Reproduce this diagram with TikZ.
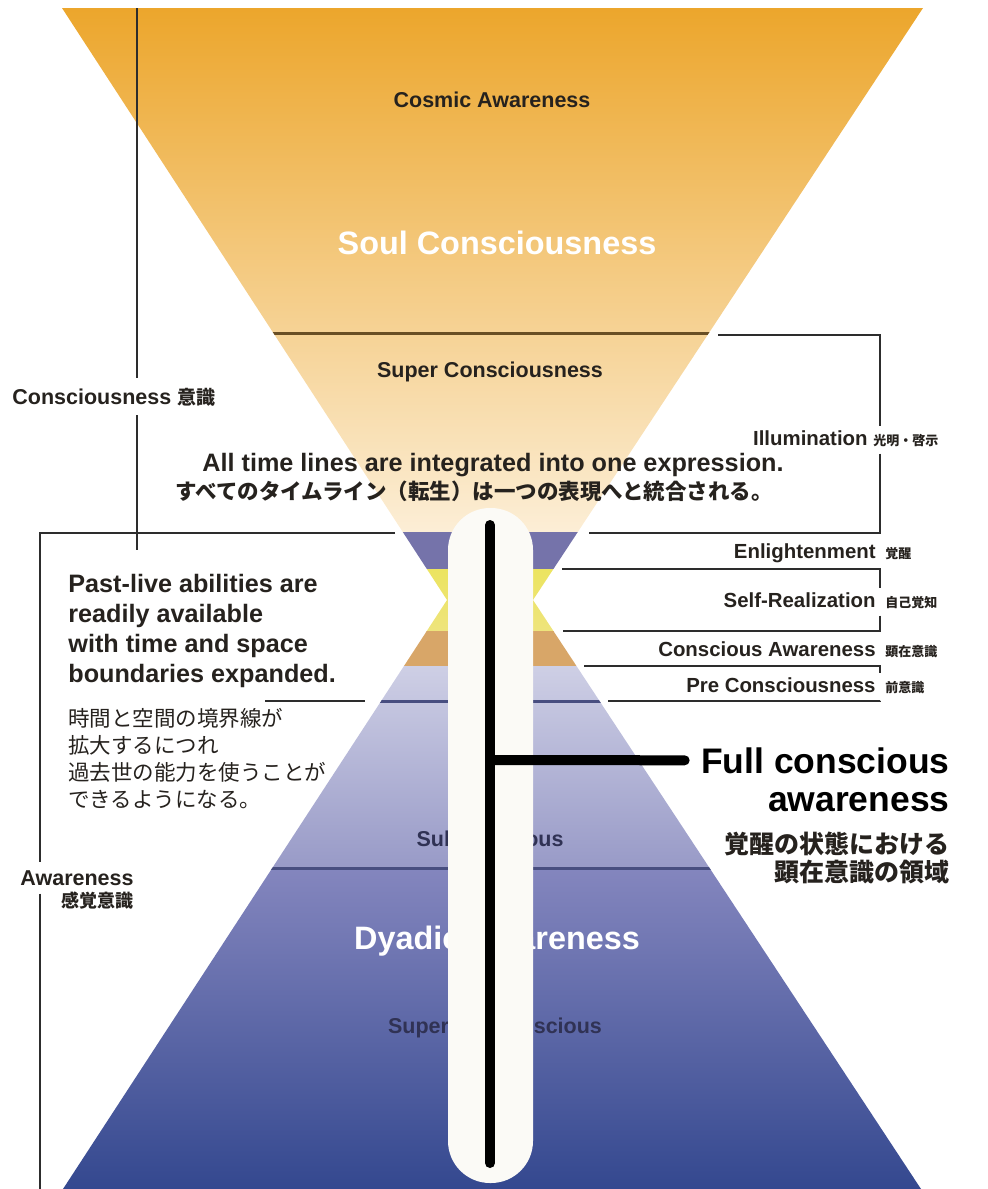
\documentclass[tikz,border=0pt]{standalone}
\usepackage{fontspec}
\setmainfont{Liberation Sans}
\newfontfamily\jp{Noto Sans CJK JP}
\usepackage{tikz}
\usetikzlibrary{positioning}
\definecolor{orangetop}{RGB}{236,166,44}
\definecolor{orangemid}{RGB}{243,196,108}
\definecolor{cream}{RGB}{252,238,214}
\definecolor{purpleband}{RGB}{117,115,170}
\definecolor{yellowA}{RGB}{236,228,96}
\definecolor{yellowB}{RGB}{238,228,124}
\definecolor{tanband}{RGB}{216,166,104}
\definecolor{lavA}{RGB}{206,207,229}
\definecolor{lavB}{RGB}{152,154,199}
\definecolor{blueA}{RGB}{132,134,190}
\definecolor{blueB}{RGB}{52,72,143}
\definecolor{brownline}{RGB}{105,78,36}
\definecolor{slateline}{RGB}{72,78,128}
\definecolor{textdark}{RGB}{38,34,30}
\definecolor{subtext}{RGB}{48,50,84}
\definecolor{bracketgray}{RGB}{45,45,45}
\definecolor{tubewhite}{RGB}{251,250,246}
\tikzstyle{rtag} = [font=\bfseries\fontsize{10.2}{12}\selectfont, text=textdark, inner sep=0pt]
\tikzstyle{jtag} = [font=\jp\bfseries\fontsize{6.5}{8}\selectfont, text=textdark,
inner xsep=0pt, inner ysep=3.5pt]
\tikzstyle{funneltext} = [font=\bfseries\fontsize{10.75}{12}\selectfont, inner sep=0pt]
\tikzstyle{bigwhite} = [font=\bfseries\fontsize{16.2}{18}\selectfont, text=white, inner sep=0pt]
\tikzstyle{midtext} = [font=\bfseries\fontsize{12.6}{15}\selectfont, text=textdark, inner sep=0pt]
\tikzstyle{jmid} = [font=\jp\bfseries\fontsize{10.75}{13.5}\selectfont, text=textdark, inner sep=0pt]
\tikzstyle{jpara} = [font=\jp\fontsize{10.75}{13.5}\selectfont, text=textdark, inner sep=0pt]
\tikzstyle{bigtext} = [font=\bfseries\fontsize{17.75}{20}\selectfont, text=black, inner sep=0pt]
\tikzstyle{bracket} = [draw=bracketgray, line width=1.2pt]
\tikzstyle{divider} = [line width=1.5pt]
\tikzstyle{spine} = [draw=black, line width=5pt, line cap=round]

\begin{document}
\begin{tikzpicture}[x=0.5pt, y=-0.5pt]
\useasboundingbox (0,0) rectangle (987,1189);
% Hourglass
\begin{scope}
\clip (62,8) -- (923,8) -- (533,600) -- (921,1189) -- (63,1189) -- (447,600) -- cycle;
\shade[top color=orangetop, middle color=orangemid, bottom color=cream] (0,8) rectangle (987,532);
\fill[purpleband] (0,532) rectangle (987,569);
\shade[top color=yellowA, bottom color=yellowB] (0,569) rectangle (987,631);
\fill[tanband] (0,631) rectangle (987,666);
\shade[top color=lavA, bottom color=lavB] (0,666) rectangle (987,868);
\shade[top color=blueA, bottom color=blueB] (0,868) rectangle (987,1189);
\draw[divider, brownline] (0,333) -- (987,333);
\draw[divider, slateline] (0,701) -- (987,701);
\draw[divider, slateline] (0,868) -- (987,868);
\end{scope}

% Place nodes
\node[funneltext, text=textdark, anchor=base] (cosmic) at (492,107) {Cosmic Awareness};
\node[bigwhite, anchor=base] (soul) at (497,254) {Soul Consciousness};
\node[funneltext, text=textdark, anchor=base] (supercons) at (490,377) {Super Consciousness};
\node[funneltext, text=subtext, anchor=base] (subcons) at (490,846) {Subconscious};
\node[bigwhite, anchor=base] (dyadic) at (497,949) {Dyadic Awareness};
\node[funneltext, text=subtext, anchor=base] (supersub) at (495,1033) {Super Subconscious};

\node[midtext, anchor=base] (timelines) at (493,471) {All time lines are integrated into one expression.};
\node[jmid] (timelinesjp) at (474,491) {すべてのタイムライン（転生）は一つの表現へと統合される。};

\node[midtext, anchor=north west, align=left] (pastlive) at (68,574)
{Past-live abilities are\\readily available\\with time and space\\boundaries expanded.};
\node[jpara, below=10pt of pastlive.south west, anchor=north west, align=left] (pastlivejp)
{時間と空間の境界線が\\拡大するにつれ\\過去世の能力を使うことが\\できるようになる。};

\node[funneltext, text=textdark, anchor=base west, inner ysep=4.5pt] (consc) at (12,404)
{Consciousness {\jp\bfseries\fontsize{9.5}{11}\selectfont 意識}};
\node[funneltext, text=textdark, anchor=base east, inner ysep=4pt] (aware) at (134,885) {Awareness};
\node[jtag, font=\jp\bfseries\fontsize{9}{10}\selectfont, anchor=east] (awarejp) at (134,901) {感覚意識};

\node[rtag, anchor=base east] (illum) at (868,445) {Illumination};
\node[jtag, anchor=base west] (illumjp) at ([xshift=2.5pt]illum.base east) {光明・啓示};
\node[rtag, anchor=base east] (enlight) at (876,558) {Enlightenment};
\node[jtag, anchor=base west] (enlightjp) at ([xshift=4.5pt]enlight.base east) {覚醒};
\node[rtag, anchor=base east] (selfreal) at (876,607) {Self-Realization};
\node[jtag, anchor=base west] (selfrealjp) at ([xshift=4.5pt]selfreal.base east) {自己覚知};
\node[rtag, anchor=base east] (consaware) at (876,656) {Conscious Awareness};
\node[jtag, anchor=base west] (consawarejp) at ([xshift=4.5pt]consaware.base east) {顕在意識};
\node[rtag, anchor=base east] (precons) at (876,692) {Pre Consciousness};
\node[jtag, anchor=base west] (preconsjp) at ([xshift=4.5pt]precons.base east) {前意識};

\node[bigtext, anchor=base east] (full) at (950,773) {Full conscious};
\node[bigtext, anchor=base east] (fullaware) at ([yshift=-19pt]full.base east) {awareness};
\node[jmid, font=\jp\bfseries\fontsize{12.5}{14}\selectfont, anchor=north east, align=right]
(fulljp) at ([yshift=-10pt]fullaware.south east) {覚醒の状態における\\顕在意識の領域};

% Tube and spine
\fill[tubewhite, rounded corners=21pt] (448,508) rectangle (533,1183);
\coordinate (spinetop) at (490,525);
\coordinate (spinebot) at (490,1163);
\coordinate (branch) at (490,760);
\draw[spine] (spinetop) -- (spinebot);
\draw[spine] (branch) -- ([xshift=-8pt]full.west);

% Draw edges
\coordinate (ltop) at (137,8);
\coordinate (lmid) at (137,550);
\coordinate (lcorner) at (40,533);
\draw[bracket] (ltop) -- (ltop |- consc.north);
\draw[bracket] (ltop |- consc.south) -- (lmid);
\draw[bracket] (395,533) -- (lcorner) -- (lcorner |- aware.north);
\draw[bracket] (lcorner |- aware.south) -- (40,1189);
\draw[bracket] (265,701) -- (365,701);

\coordinate (c1) at (880,335);
\coordinate (c2) at (880,533);
\coordinate (c3) at (880,569);
\coordinate (c4) at (880,631);
\coordinate (c5) at (880,666);
\coordinate (c6) at (880,701);
\draw[bracket] (718,335) -- (c1) -- (c1 |- illumjp.north);
\draw[bracket] (c1 |- illumjp.south) -- (c2) -- (589,533);
\draw[bracket] (562,569) -- (c3) -- (c3 |- selfrealjp.north);
\draw[bracket] (c3 |- selfrealjp.south) -- (c4) -- (563,631);
\draw[bracket] (584,666) -- (c5) -- (c5 |- preconsjp.north);
\draw[bracket] (c5 |- preconsjp.south) -- (c6) -- (608,701);
\end{tikzpicture}
\end{document}
